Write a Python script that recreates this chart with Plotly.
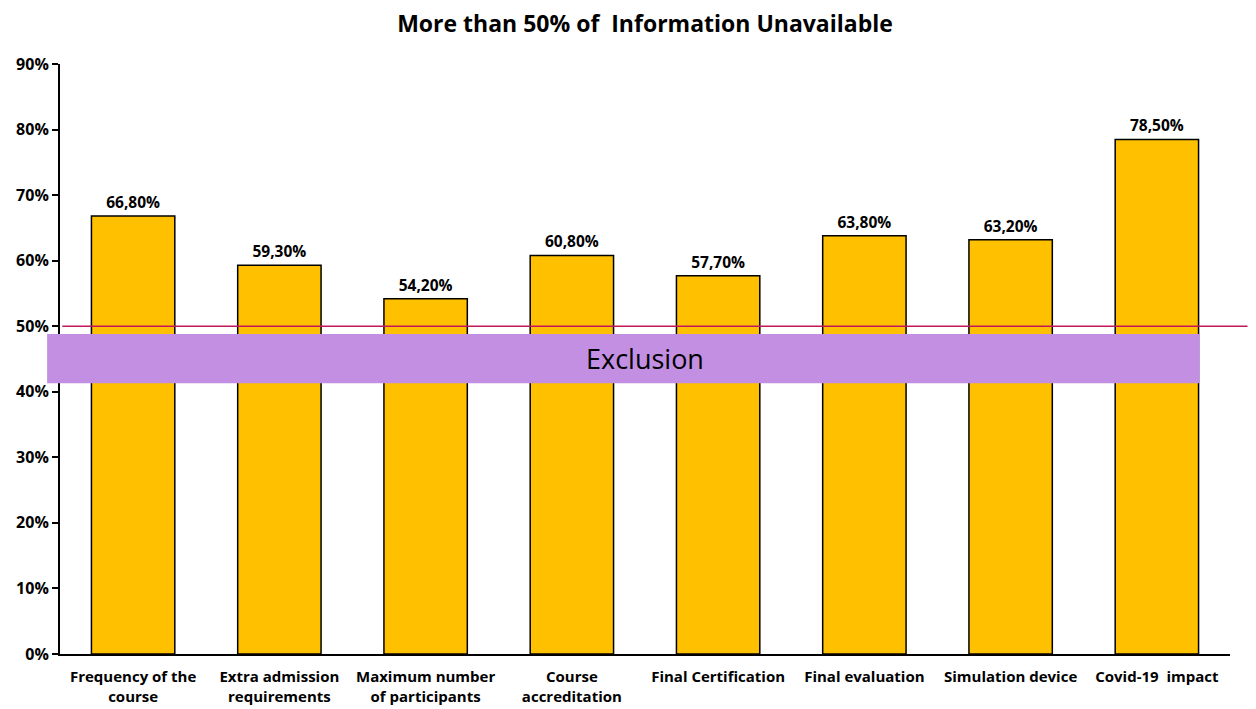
import plotly.graph_objects as go

# data
categories = [
    'Frequency of the<br>course',
    'Extra admission<br>requirements',
    'Maximum number<br>of participants',
    'Course<br>accreditation',
    'Final Certification',
    'Final evaluation',
    'Simulation device',
    'Covid-19  impact',
]
values = [66.8, 59.3, 54.2, 60.8, 57.7, 63.8, 63.2, 78.5]
threshold = 50
exclusion_band = [41.3, 48.8]

FONT = 'Open Sans'

fig = go.Figure()
fig.add_trace(go.Bar(
    x=categories,
    y=values,
    width=0.57,
    marker=dict(color='#FFC000', line=dict(color='black', width=1.5)),
    texttemplate='%{y:.2f}%',
    textposition='outside',
    textfont=dict(family=FONT, size=15.5, color='black', weight='bold'),
    cliponaxis=False,
))

# 50% line
fig.add_shape(
    type='line', xref='paper', yref='y',
    x0=0.002, x1=1.015, y0=threshold, y1=threshold,
    line=dict(color='#C2185B', width=1.5),
)
# exclusion band
fig.add_shape(
    type='rect', xref='paper', yref='y',
    x0=-0.011, x1=0.974, y0=exclusion_band[0], y1=exclusion_band[1],
    fillcolor='#C28FE3', line=dict(width=0), layer='above',
)
fig.add_annotation(
    x=0.5, xref='paper', y=sum(exclusion_band) / 2, yref='y',
    text='Exclusion', showarrow=False,
    font=dict(family=FONT, size=27, color='black'),
)

# page adds an 8px body margin, so margins are shifted to compensate
fig.update_layout(
    width=1256,
    height=709,
    paper_bgcolor='white',
    plot_bgcolor='white',
    showlegend=False,
    separators=',.',
    margin=dict(l=52, r=34, t=56, b=63),
    title=dict(
        text='More than 50% of  Information Unavailable',
        x=0.5, xref='paper', y=0.977, yanchor='middle',
        font=dict(family=FONT, size=23, color='black', weight='bold'),
    ),
    xaxis=dict(
        showline=True, linecolor='black', linewidth=2,
        ticks='', showgrid=False, ticklabelstandoff=8, automargin=False,
        tickfont=dict(family=FONT, size=15, color='black', weight='bold'),
    ),
    yaxis=dict(
        range=[0, 90], dtick=10, ticksuffix='%',
        showline=True, linecolor='black', linewidth=2,
        ticks='outside', ticklen=6, tickwidth=2, tickcolor='black',
        showgrid=False, zeroline=False, automargin=False,
        tickfont=dict(family=FONT, size=16, color='black', weight='bold'),
    ),
)

fig.write_html('out.html')
